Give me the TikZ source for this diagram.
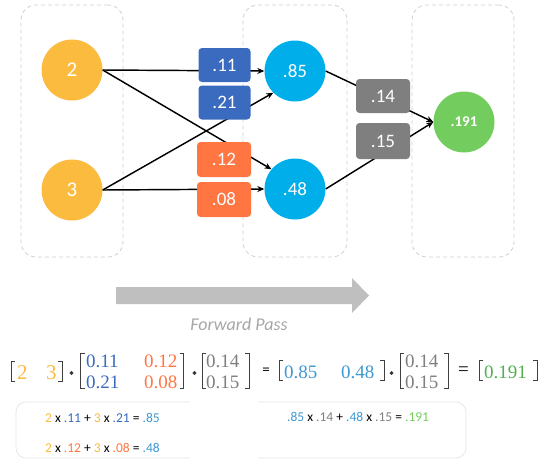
\documentclass[tikz,border=0pt]{standalone}
\usepackage{fontspec}
\newfontfamily\carl{Carlito}
\newfontfamily\eqfont{Liberation Serif}
\usetikzlibrary{arrows.meta}
\definecolor{cgold}{HTML}{FBBB3F}
\definecolor{ccyan}{HTML}{00AEEA}
\definecolor{cgreen}{HTML}{72CD5E}
\definecolor{wblue}{HTML}{3A6BBE}
\definecolor{worange}{HTML}{FF7643}
\definecolor{wgray}{HTML}{7F7F7F}
\definecolor{dashgray}{HTML}{CFCFCF}
\definecolor{arrowgray}{HTML}{BFBFBF}
\definecolor{fpgray}{HTML}{A6A6A6}
\definecolor{brk}{HTML}{404040}
\definecolor{tlblue}{HTML}{3D98D3}
\definecolor{tgreen}{HTML}{52B04E}
\definecolor{framegray}{HTML}{E6E6E6}
\begin{document}
\begin{tikzpicture}[x=1pt,y=-1pt,
  layerbox/.style={draw=dashgray, dash pattern=on 4pt off 3pt, line width=0.8pt, rounded corners=15pt, minimum width=102pt, minimum height=252pt, inner sep=0pt},
  neuron/.style={circle, minimum size=61pt, inner sep=0pt, text=white, font=\carl\fontsize{19}{19}\selectfont},
  wbox/.style={rounded corners=3.5pt, minimum width=52pt, minimum height=34pt, inner sep=0pt, text=white, font=\carl\fontsize{19}{19}\selectfont},
  conn/.style={line width=1.45pt, -{Stealth[length=7pt,width=6pt]}},
  brk/.style={draw=brk, line width=1pt},
  eqnum/.style={anchor=base west, inner sep=0pt, font=\eqfont\fontsize{19}{19}\selectfont},
  sumtxt/.style={anchor=base west, inner sep=0pt, font=\carl\fontsize{13.5}{13.5}\selectfont}
]
\useasboundingbox (0,0) rectangle (552,461);
% layer frames
\node[layerbox] (L1) at (72,131) {};
\node[layerbox, minimum width=104pt] (L2) at (295,131) {};
\node[layerbox] (L3) at (463,131) {};
% neurons
\node[neuron, fill=cgold, font=\carl\fontsize{21}{21}\selectfont] (i2) at (72,70) {2};
\node[neuron, fill=cgold, font=\carl\fontsize{21}{21}\selectfont] (i3) at (72,190) {3};
\node[neuron, fill=ccyan] (h1) at (295,71) {.85};
\node[neuron, fill=ccyan] (h2) at (295,189) {.48};
\node[neuron, fill=cgreen, font=\carl\bfseries\fontsize{15}{15}\selectfont] (o) at (464,122) {.191};
% connectors
\draw[conn] (i2.east) -- (h1.west);
\draw[conn] (i2.east) -- (h2.140);
\draw[conn] (i3.east) -- (h1.225);
\draw[conn] (i3.east) -- (h2.west);
\draw[conn] (h1.east) -- (o.west);
\draw[conn] (h2.east) -- (o.west);
% weights
\node[wbox, fill=wblue] (w11) at (224.5,65) {.11};
\node[wbox, fill=wblue] (w21) at (224.5,102.5) {.21};
\node[wbox, fill=worange, minimum width=54pt, minimum height=35pt] (w12) at (224,159.5) {.12};
\node[wbox, fill=worange, minimum width=54pt, minimum height=35pt] (w08) at (224,199.5) {.08};
\node[wbox, fill=wgray, minimum width=54pt, minimum height=34pt] (w14) at (383,96) {.14};
\node[wbox, fill=wgray, minimum width=54pt, minimum height=36pt] (w15) at (383,141) {.15};
% forward pass arrow
\fill[arrowgray] (116,287) -- (352,287) -- (352,278) -- (369,295.5) -- (352,313) -- (352,304) -- (116,304) -- cycle;
\node[text=fpgray, font=\carl\itshape\fontsize{18}{18}\selectfont, inner sep=0pt] (fp) at (239,324) {Forward Pass};
% matrix equation brackets
\draw[brk] (15,361) -- (11,361) -- (11,381) -- (15,381);
\draw[brk] (58,361) -- (62,361) -- (62,381) -- (58,381);
\draw[brk] (84.5,353) -- (80.5,353) -- (80.5,388) -- (84.5,388);
\draw[brk] (179.5,353) -- (183.5,353) -- (183.5,388) -- (179.5,388);
\draw[brk] (206,353) -- (202,353) -- (202,388) -- (206,388);
\draw[brk] (245,353) -- (249,353) -- (249,388) -- (245,388);
\draw[brk] (283,360) -- (279,360) -- (279,380) -- (283,380);
\draw[brk] (380,360) -- (384,360) -- (384,380) -- (380,380);
\draw[brk] (404,353) -- (400,353) -- (400,388) -- (404,388);
\draw[brk] (444,353) -- (448,353) -- (448,388) -- (444,388);
\draw[brk] (483,360) -- (479,360) -- (479,380) -- (483,380);
\draw[brk] (533,360) -- (537,360) -- (537,380) -- (533,380);
\fill[brk] (71.5,373) circle (1.3pt);
\fill[brk] (194.5,373) circle (1.3pt);
\fill[brk] (391.5,373) circle (1.3pt);
% matrix equation entries
\node[eqnum, text=cgold, font=\eqfont\fontsize{21}{21}\selectfont] (e2) at (17,379) {2};
\node[eqnum, text=cgold, font=\eqfont\fontsize{21}{21}\selectfont] (e3) at (46,379) {3};
\node[eqnum, text=wblue] (e11) at (86,367) {0.11};
\node[eqnum, text=worange] (e12) at (144,367) {0.12};
\node[eqnum, text=wblue] (e21) at (86,388) {0.21};
\node[eqnum, text=worange] (e08) at (144,388) {0.08};
\node[eqnum, text=wgray] (e14) at (206,367) {0.14};
\node[eqnum, text=wgray] (e15) at (206,388) {0.15};
\node[inner sep=0pt, font=\carl\fontsize{15}{15}\selectfont] (eq1) at (266,371) {=};
\node[eqnum, text=tlblue] (e85) at (284,378) {0.85};
\node[eqnum, text=tlblue] (e48) at (341,378) {0.48};
\node[eqnum, text=wgray] (f14) at (405,367) {0.14};
\node[eqnum, text=wgray] (f15) at (405,388) {0.15};
\node[inner sep=0pt, font=\eqfont\fontsize{19}{19}\selectfont] (eq2) at (463.5,371) {=};
\node[eqnum, text=tgreen] (e191) at (484,378) {0.191};
% summary frame
\draw[framegray, line width=0.8pt, rounded corners=10pt] (16,402) rectangle (466,458);
\fill[white] (190,398) rectangle (258,461);
\node[sumtxt] (s1) at (45,422) {{\color{cgold}2} x {\color{wblue}.11} + {\color{cgold}3} x {\color{wblue}.21} = {\color{tlblue}.85}};
\node[sumtxt] (s2) at (45,452) {{\color{cgold}2} x {\color{worange}.12} + {\color{cgold}3} x {\color{worange}.08} = {\color{tlblue}.48}};
\node[sumtxt] (s3) at (287,421) {{\color{tlblue}.85} x {\color{wgray}.14} + {\color{ccyan}.}{\color{tlblue}48} x {\color{wgray}.15} = {\color{cgreen}.191}};
\end{tikzpicture}
\end{document}
